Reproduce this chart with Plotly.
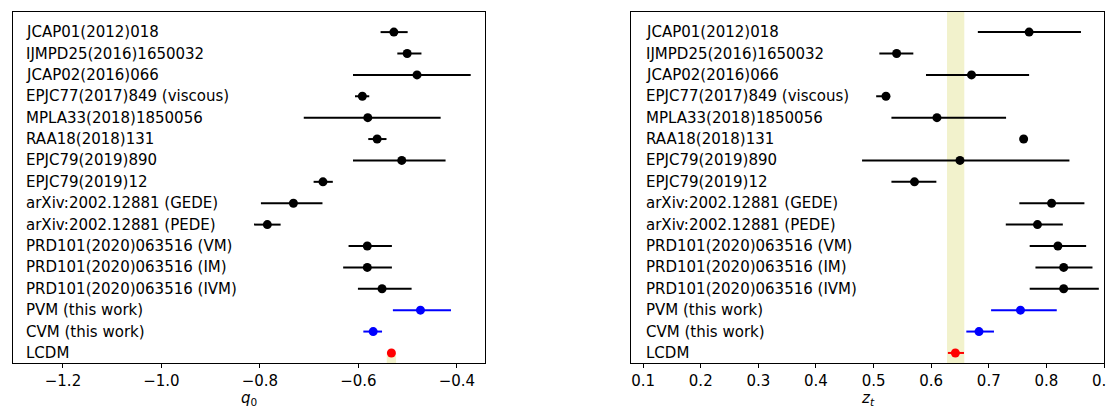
import plotly.graph_objects as go
from plotly.subplots import make_subplots

labels = [
    "JCAP01(2012)018", "IJMPD25(2016)1650032", "JCAP02(2016)066",
    "EPJC77(2017)849 (viscous)", "MPLA33(2018)1850056", "RAA18(2018)131",
    "EPJC79(2019)890", "EPJC79(2019)12", "arXiv:2002.12881 (GEDE)",
    "arXiv:2002.12881 (PEDE)", "PRD101(2020)063516 (VM)",
    "PRD101(2020)063516 (IM)", "PRD101(2020)063516 (IVM)",
    "PVM (this work)", "CVM (this work)", "LCDM",
]
colors = ["black"] * 13 + ["blue", "blue", "red"]

q0 = [-0.528, -0.501, -0.481, -0.592, -0.581, -0.562, -0.512, -0.672,
      -0.732, -0.785, -0.582, -0.582, -0.552, -0.474, -0.570, -0.533]
q0_minus = [0.027, 0.020, 0.130, 0.015, 0.130, 0.018, 0.099, 0.019,
            0.066, 0.027, 0.038, 0.049, 0.049, 0.056, 0.020, 0.007]
q0_plus = [0.028, 0.029, 0.109, 0.014, 0.148, 0.019, 0.089, 0.020,
           0.059, 0.027, 0.050, 0.050, 0.060, 0.062, 0.018, 0.007]

zt = [0.770, 0.540, 0.670, 0.5215, 0.610, 0.7605, 0.650, 0.571,
      0.809, 0.7845, 0.820, 0.830, 0.830, 0.755, 0.683, 0.642]
zt_minus = [0.089, 0.030, 0.079, 0.017, 0.079, 0.004, 0.170, 0.040,
            0.056, 0.055, 0.049, 0.049, 0.059, 0.051, 0.022, 0.013]
zt_plus = [0.090, 0.029, 0.100, 0.006, 0.120, 0.004, 0.190, 0.038,
           0.057, 0.044, 0.049, 0.050, 0.061, 0.063, 0.026, 0.015]

q0_band = [-0.5425, -0.5235]
zt_band = [0.6275, 0.6575]

q0_ticks = [-1.2, -1.0, -0.8, -0.6, -0.4]
zt_ticks = [0.1, 0.2, 0.3, 0.4, 0.5, 0.6, 0.7, 0.8, 0.9]

rows = list(range(len(labels)))
FONT = "DejaVu Sans"
FS = 15

fig = make_subplots(rows=1, cols=2, horizontal_spacing=0.1339)
fig.update_layout(
    width=1114, height=406,
    margin=dict(l=5, r=18, t=4, b=51),
    paper_bgcolor="white", plot_bgcolor="white",
    showlegend=False,
    font=dict(family=FONT, size=FS, color="black"),
)
fig.layout.xaxis.domain = [0.0, 0.4326]
fig.layout.xaxis2.domain = [0.5665, 1.0]

# bands
fig.add_shape(type="rect", xref="x", yref="y", x0=q0_band[0], x1=q0_band[1],
              y0=rows[-1], y1=15.47, fillcolor="rgba(191,191,0,0.2)",
              line_width=0, layer="below")
fig.add_shape(type="rect", xref="x2", yref="y2 domain", x0=zt_band[0], x1=zt_band[1],
              y0=0, y1=1, fillcolor="rgba(191,191,0,0.2)",
              line_width=0, layer="below")

for i in rows:
    fig.add_trace(go.Scatter(
        x=[q0[i]], y=[i], mode="markers",
        marker=dict(size=9, color=colors[i]),
        error_x=dict(type="data", symmetric=False, array=[q0_plus[i]],
                     arrayminus=[q0_minus[i]], color=colors[i],
                     thickness=2, width=0),
    ), row=1, col=1)
    fig.add_trace(go.Scatter(
        x=[zt[i]], y=[i], mode="markers",
        marker=dict(size=9, color=colors[i]),
        error_x=dict(type="data", symmetric=False, array=[zt_plus[i]],
                     arrayminus=[zt_minus[i]], color=colors[i],
                     thickness=2, width=0),
    ), row=1, col=2)
    for xr, yr, xpos in (("x domain", "y", 0.023), ("x2 domain", "y2", 0.0275)):
        fig.add_annotation(text=labels[i], xref=xr, yref=yr, x=xpos, y=i,
                           xanchor="left", yanchor="middle", showarrow=False,
                           font=dict(family=FONT, size=FS, color="black"))

# axis titles as annotations (placed just below the tick labels)
for xr, txt in (("x domain", "<i>q</i><sub>0</sub>"),
                ("x2 domain", "<i>z</i><sub><i>t</i></sub>")):
    fig.add_annotation(text=txt, xref=xr, yref="paper", x=0.5, y=-0.068,
                       xanchor="center", yanchor="top", showarrow=False,
                       font=dict(family=FONT, size=FS, color="black"))

axis_common = dict(showline=True, linecolor="black", linewidth=1, mirror=True,
                   ticks="outside", ticklen=4, tickwidth=1, tickcolor="black",
                   showgrid=False, zeroline=False,
                   tickfont=dict(family=FONT, size=FS, color="black"))
fig.update_xaxes(range=[-1.3015, -0.343], tickvals=q0_ticks,
                 ticktext=["\u22121.2", "\u22121.0", "\u22120.8", "\u22120.6", "\u22120.4"],
                 row=1, col=1, **axis_common)
fig.update_xaxes(range=[0.079, 0.9], tickvals=zt_ticks,
                 ticktext=[f"{v:.1f}" for v in zt_ticks],
                 row=1, col=2, **axis_common)
fig.update_yaxes(range=[15.47, -0.94], showticklabels=False, ticks="",
                 showline=True, linecolor="black", linewidth=1, mirror=True,
                 showgrid=False, zeroline=False)

fig.write_html("out.html")
